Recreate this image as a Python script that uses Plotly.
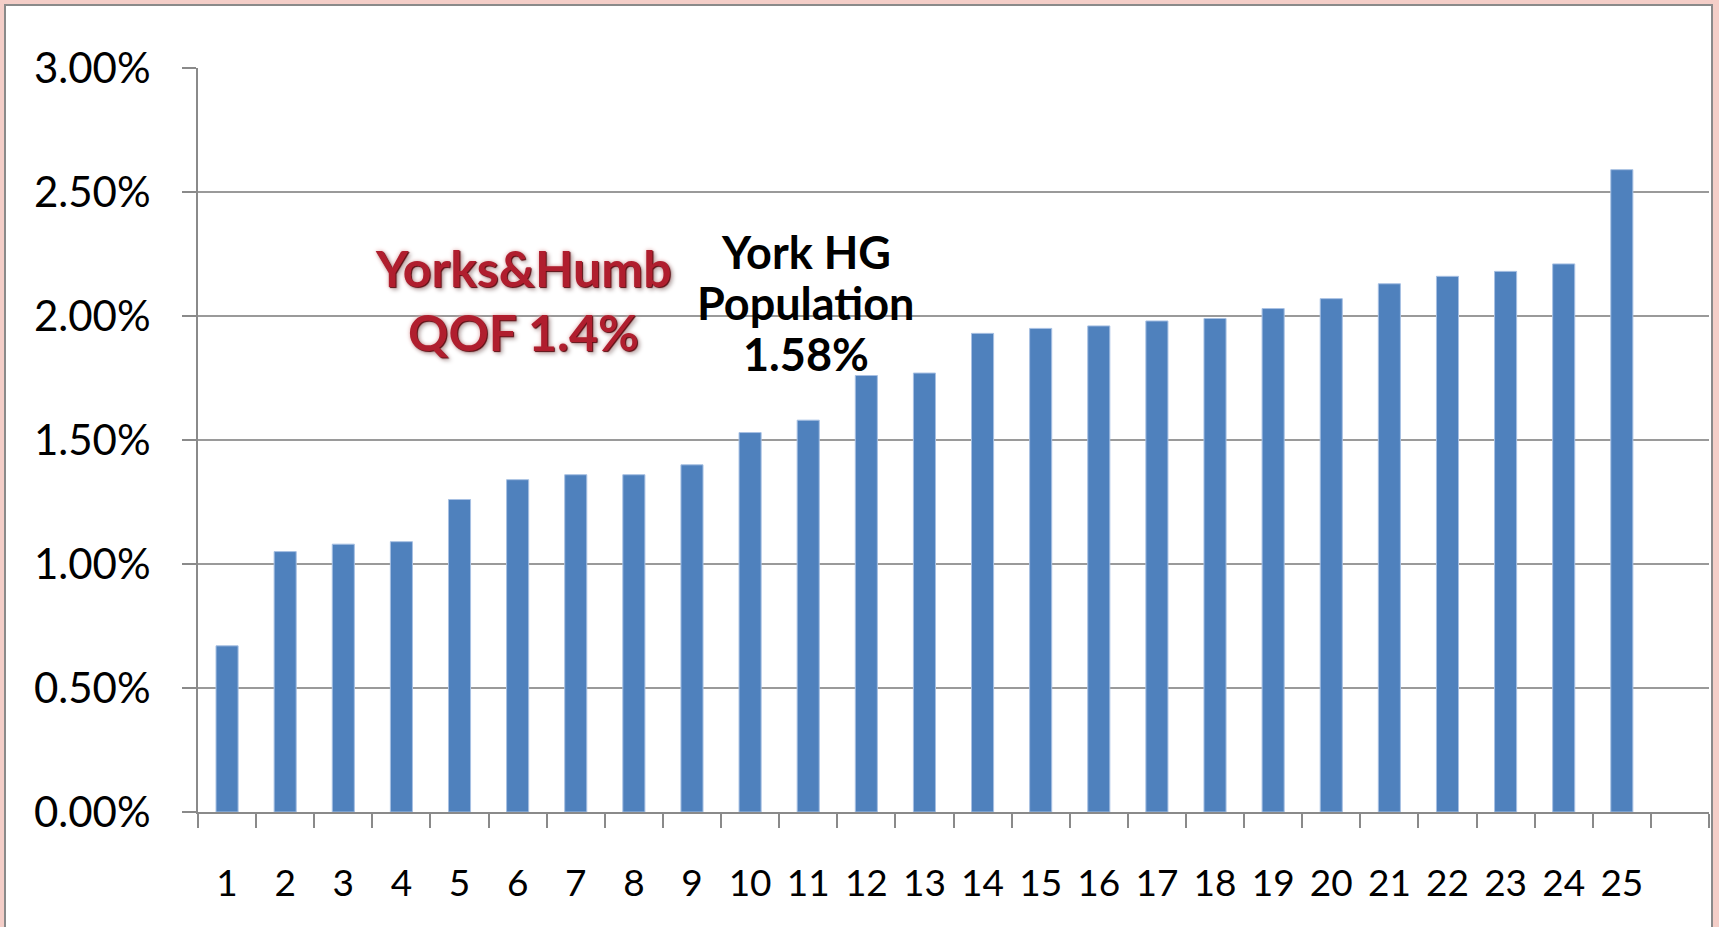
import plotly.graph_objects as go

categories = list(range(1, 26))
values = [0.67, 1.05, 1.08, 1.09, 1.26, 1.34, 1.36, 1.36, 1.40, 1.53,
          1.58, 1.76, 1.77, 1.93, 1.95, 1.96, 1.98, 1.99, 2.03, 2.07,
          2.13, 2.16, 2.18, 2.21, 2.59]
y_ticks = [0.0, 0.5, 1.0, 1.5, 2.0, 2.5, 3.0]
y_ticktext = ["0.00%", "0.50%", "1.00%", "1.50%", "2.00%", "2.50%", "3.00%"]
x_ticktext = [str(c) for c in categories]
red_lines = ["Yorks&Humb", "QOF 1.4%"]
black_lines = ["York HG", "Population", "1.58%"]

W, H = 1719, 927
L, R, T, B = 198, 10, 68, 115
pw = W - L - R
ph = H - T - B

def px2x(px):
    return (px - L) / pw

def py2y(py):
    return (H - B - py) / ph

fig = go.Figure()
fig.add_trace(go.Bar(
    x=categories, y=values,
    marker=dict(color="#4F81BD", line=dict(color="#A7C0E3", width=1)),
    width=0.38,
    showlegend=False,
))

fig.add_shape(type="rect", xref="paper", yref="paper",
              x0=px2x(5), x1=px2x(1712), y0=py2y(950), y1=py2y(5),
              fillcolor="white", line=dict(color="#8A8A8A", width=2),
              layer="below")

for txt, py in zip(red_lines, [268, 332]):
    fig.add_annotation(
        text=txt, xref="paper", yref="paper",
        x=px2x(523), y=py2y(py), showarrow=False,
        font=dict(family="Lato", size=50, color="#B01E2E", weight="bold",
                  shadow="1px 1px 1px #5a0d12, 0px 0px 4px #e0a8a8, 3px 3px 4px #b5aaaa"),
        align="center", xanchor="center", yanchor="middle",
    )
for txt, py in zip(black_lines, [252, 303, 354]):
    fig.add_annotation(
        text=txt, xref="paper", yref="paper",
        x=px2x(806), y=py2y(py), showarrow=False,
        font=dict(family="Lato", size=45, color="black", weight="bold"),
        align="center", xanchor="center", yanchor="middle",
    )

fig.update_layout(
    width=W, height=H,
    margin=dict(l=L, r=R, t=T, b=B, pad=0, autoexpand=False),
    paper_bgcolor="#F4CEC8",
    plot_bgcolor="rgba(0,0,0,0)",
    font=dict(family="Lato", color="black"),
    bargap=0.62,
)
fig.update_xaxes(
    range=[0.5, 26.5], automargin=False,
    tickmode="array", tickvals=categories, ticktext=x_ticktext,
    ticks="", tickfont=dict(size=37, family="Lato", color="black"),
    ticklabelstandoff=38,
    showgrid=False, zeroline=False,
    showline=True, linecolor="#8A8A8A", linewidth=2,
    minor=dict(tickmode="array", tickvals=[i + 0.5 for i in range(0, 27)],
               ticks="outside", ticklen=14, tickwidth=2, tickcolor="#8A8A8A",
               showgrid=False),
)
fig.update_yaxes(
    range=[0, 3.0], automargin=False,
    tickmode="array", tickvals=y_ticks, ticktext=y_ticktext,
    ticks="outside", ticklen=14, tickwidth=2, tickcolor="#8A8A8A",
    tickfont=dict(size=42, family="Lato", color="black"),
    ticklabelstandoff=23,
    showgrid=True, gridcolor="#9A9A9A", gridwidth=2,
    zeroline=False,
    showline=True, linecolor="#8A8A8A", linewidth=2,
)

fig.write_html("out.html", config={"displayModeBar": False},
               post_script="document.body.style.margin='0px';document.body.style.overflow='hidden';")
